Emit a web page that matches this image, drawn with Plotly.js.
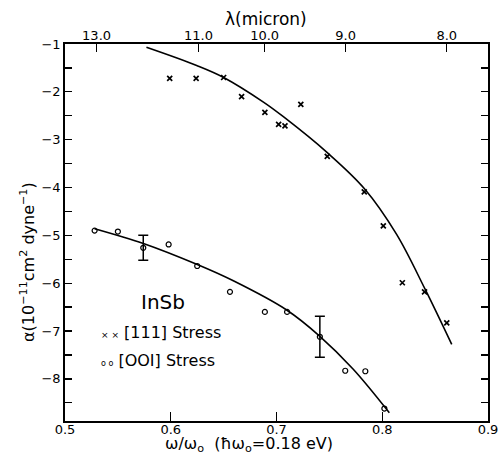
<!DOCTYPE html>
<html>
<head>
<meta charset="utf-8">
<script src="https://cdn.plot.ly/plotly-3.0.1.min.js"></script>
<style>html,body{margin:0;padding:0;background:#fff;}#chart{width:504px;height:455px;}</style>
</head>
<body>
<div id="chart"></div>
<script>
// [111] stress data (crosses)
var s111_x = [0.599, 0.624, 0.650, 0.667, 0.689, 0.702, 0.708, 0.723, 0.748, 0.783, 0.801, 0.819, 0.840, 0.861];
var s111_y = [-1.72, -1.72, -1.70, -2.10, -2.43, -2.68, -2.71, -2.26, -3.35, -4.09, -4.80, -5.99, -6.18, -6.83];
// [111] fitted curve
var c111_x = [0.577, 0.6245, 0.650, 0.688, 0.7065, 0.748, 0.783, 0.8136, 0.8404, 0.8657];
var c111_y = [-1.07, -1.45, -1.70, -2.22, -2.52, -3.27, -4.02, -4.98, -6.12, -7.28];
// [001] stress data (circles)
var s001_x = [0.528, 0.550, 0.574, 0.598, 0.625, 0.656, 0.689, 0.710, 0.741, 0.765, 0.784, 0.802];
var s001_y = [-4.90, -4.92, -5.26, -5.19, -5.64, -6.18, -6.60, -6.60, -7.12, -7.83, -7.84, -8.62];
var s001_err = [NaN, NaN, 0.26, NaN, NaN, NaN, NaN, NaN, 0.43, NaN, NaN, NaN];
// [001] fitted curve
var c001_x = [0.528, 0.5741, 0.6251, 0.6592, 0.7096, 0.7405, 0.7726, 0.8067];
var c001_y = [-4.86, -5.17, -5.61, -5.95, -6.56, -7.10, -7.80, -8.71];
// axis ticks
var xTicks = [0.5, 0.6, 0.7, 0.8, 0.9];
var xTickText = ['0.5', '0.6', '0.7', '0.8', '0.9'];
var lambdaTicks = [13.0, 11.0, 10.0, 9.0, 8.0];
var lambdaText = ['13.0', '11.0', '10.0', '9.0', '8.0'];
var yTicks = [-1, -2, -3, -4, -5, -6, -7, -8];
var yTickText = ['\u22121', '\u22122', '\u22123', '\u22124', '\u22125', '\u22126', '\u22127', '\u22128'];

var hw0 = 0.18; // eV
var lambdaPos = lambdaTicks.map(function (l) { return 1.23984 / (hw0 * l); });

var F = 'DejaVu Sans, Liberation Sans, sans-serif';

var traces = [
  {x: c111_x, y: c111_y, mode: 'lines', line: {color: '#000', width: 1.6, shape: 'spline', smoothing: 1}, hoverinfo: 'skip'},
  {x: c001_x, y: c001_y, mode: 'lines', line: {color: '#000', width: 1.6, shape: 'spline', smoothing: 1}, hoverinfo: 'skip'},
  {x: s111_x, y: s111_y, mode: 'markers',
   marker: {symbol: 'x-thin', size: 5, color: '#000', line: {color: '#000', width: 1.7}}},
  {x: s001_x, y: s001_y, mode: 'markers',
   marker: {symbol: 'circle-open', size: 5, color: '#000', line: {color: '#000', width: 1.2}},
   error_y: {type: 'data', array: s001_err, visible: true, color: '#000', thickness: 1.5, width: 5}},
  {x: [], y: [], xaxis: 'x2', yaxis: 'y', mode: 'markers'}
];

var layout = {
  width: 504, height: 455,
  margin: {l: 65, r: 16, t: 44, b: 34},
  paper_bgcolor: '#fff', plot_bgcolor: '#fff',
  showlegend: false,
  font: {family: F, size: 13, color: '#000'},
  xaxis: {
    range: [0.5, 0.9], tickvals: xTicks, ticktext: xTickText,
    ticks: 'inside', ticklen: 9, tickwidth: 1.3, tickcolor: '#000',
    showline: true, linecolor: '#000', linewidth: 1.8, mirror: true,
    showgrid: false, zeroline: false, ticklabelstandoff: -4,
    tickfont: {family: F, size: 13, color: '#000'}
  },
  xaxis2: {
    overlaying: 'x', side: 'top', anchor: 'y',
    range: [0.5, 0.9], tickvals: lambdaPos, ticktext: lambdaText,
    ticks: 'inside', ticklen: 8, tickwidth: 1.3, tickcolor: '#000',
    showline: false, showgrid: false, zeroline: false,
    tickfont: {family: F, size: 13, color: '#000'}
  },
  yaxis: {
    range: [-8.88, -1], tickvals: yTicks, ticktext: yTickText,
    ticks: 'inside', ticklen: 7, tickwidth: 1.3, tickcolor: '#000',
    minor: {dtick: 0.5, tick0: -1, ticks: 'inside', ticklen: 7, tickwidth: 1.3, tickcolor: '#000', showgrid: false},
    showline: true, linecolor: '#000', linewidth: 1.8, mirror: 'ticks',
    showgrid: false, zeroline: false,
    tickfont: {family: F, size: 13, color: '#000'}
  },
  annotations: [
    {xref: 'paper', yref: 'paper', x: (266 - 65) / 423, y: 1 + (44 - 19) / 377, text: '\u03bb(micron)',
     showarrow: false, font: {family: F, size: 17, color: '#000'}, xanchor: 'center', yanchor: 'middle'},
    {xref: 'paper', yref: 'paper', x: (249 - 65) / 423, y: -(444 - 421) / 377,
     text: '\u03c9/\u03c9<sub>o</sub>  (\u0127\u03c9<sub>o</sub>=0.18 eV)',
     showarrow: false, font: {family: F, size: 16, color: '#000'}, xanchor: 'center', yanchor: 'middle'},
    {xref: 'paper', yref: 'paper', x: -(65 - 27) / 423, y: 1 - (262 - 44) / 377,
     text: '\u03b1(10<sup>\u221211</sup>cm<sup>2</sup> dyne<sup>\u22121</sup>)', textangle: -90,
     showarrow: false, font: {family: F, size: 16, color: '#000'}, xanchor: 'center', yanchor: 'middle'},
    {xref: 'paper', yref: 'paper', x: (163 - 65) / 423, y: 1 - (302 - 44) / 377, text: 'InSb',
     showarrow: false, font: {family: F, size: 20, color: '#000'}, xanchor: 'center', yanchor: 'middle'},
    {xref: 'paper', yref: 'paper', x: (99 - 65) / 423, y: 1 - (332 - 44) / 377,
     text: '<span style="font-size:9px;fill:#000">\u00d7 \u00d7</span> [111] Stress',
     showarrow: false, font: {family: F, size: 16, color: '#000'}, xanchor: 'left', yanchor: 'middle'},
    {xref: 'paper', yref: 'paper', x: (99 - 65) / 423, y: 1 - (360 - 44) / 377,
     text: '<span style="font-size:8px">o o</span> [OOI] Stress',
     showarrow: false, font: {family: F, size: 16, color: '#000'}, xanchor: 'left', yanchor: 'middle'}
  ]
};

Plotly.newPlot('chart', traces, layout, {staticPlot: true, displayModeBar: false});
</script>
</body>
</html>
